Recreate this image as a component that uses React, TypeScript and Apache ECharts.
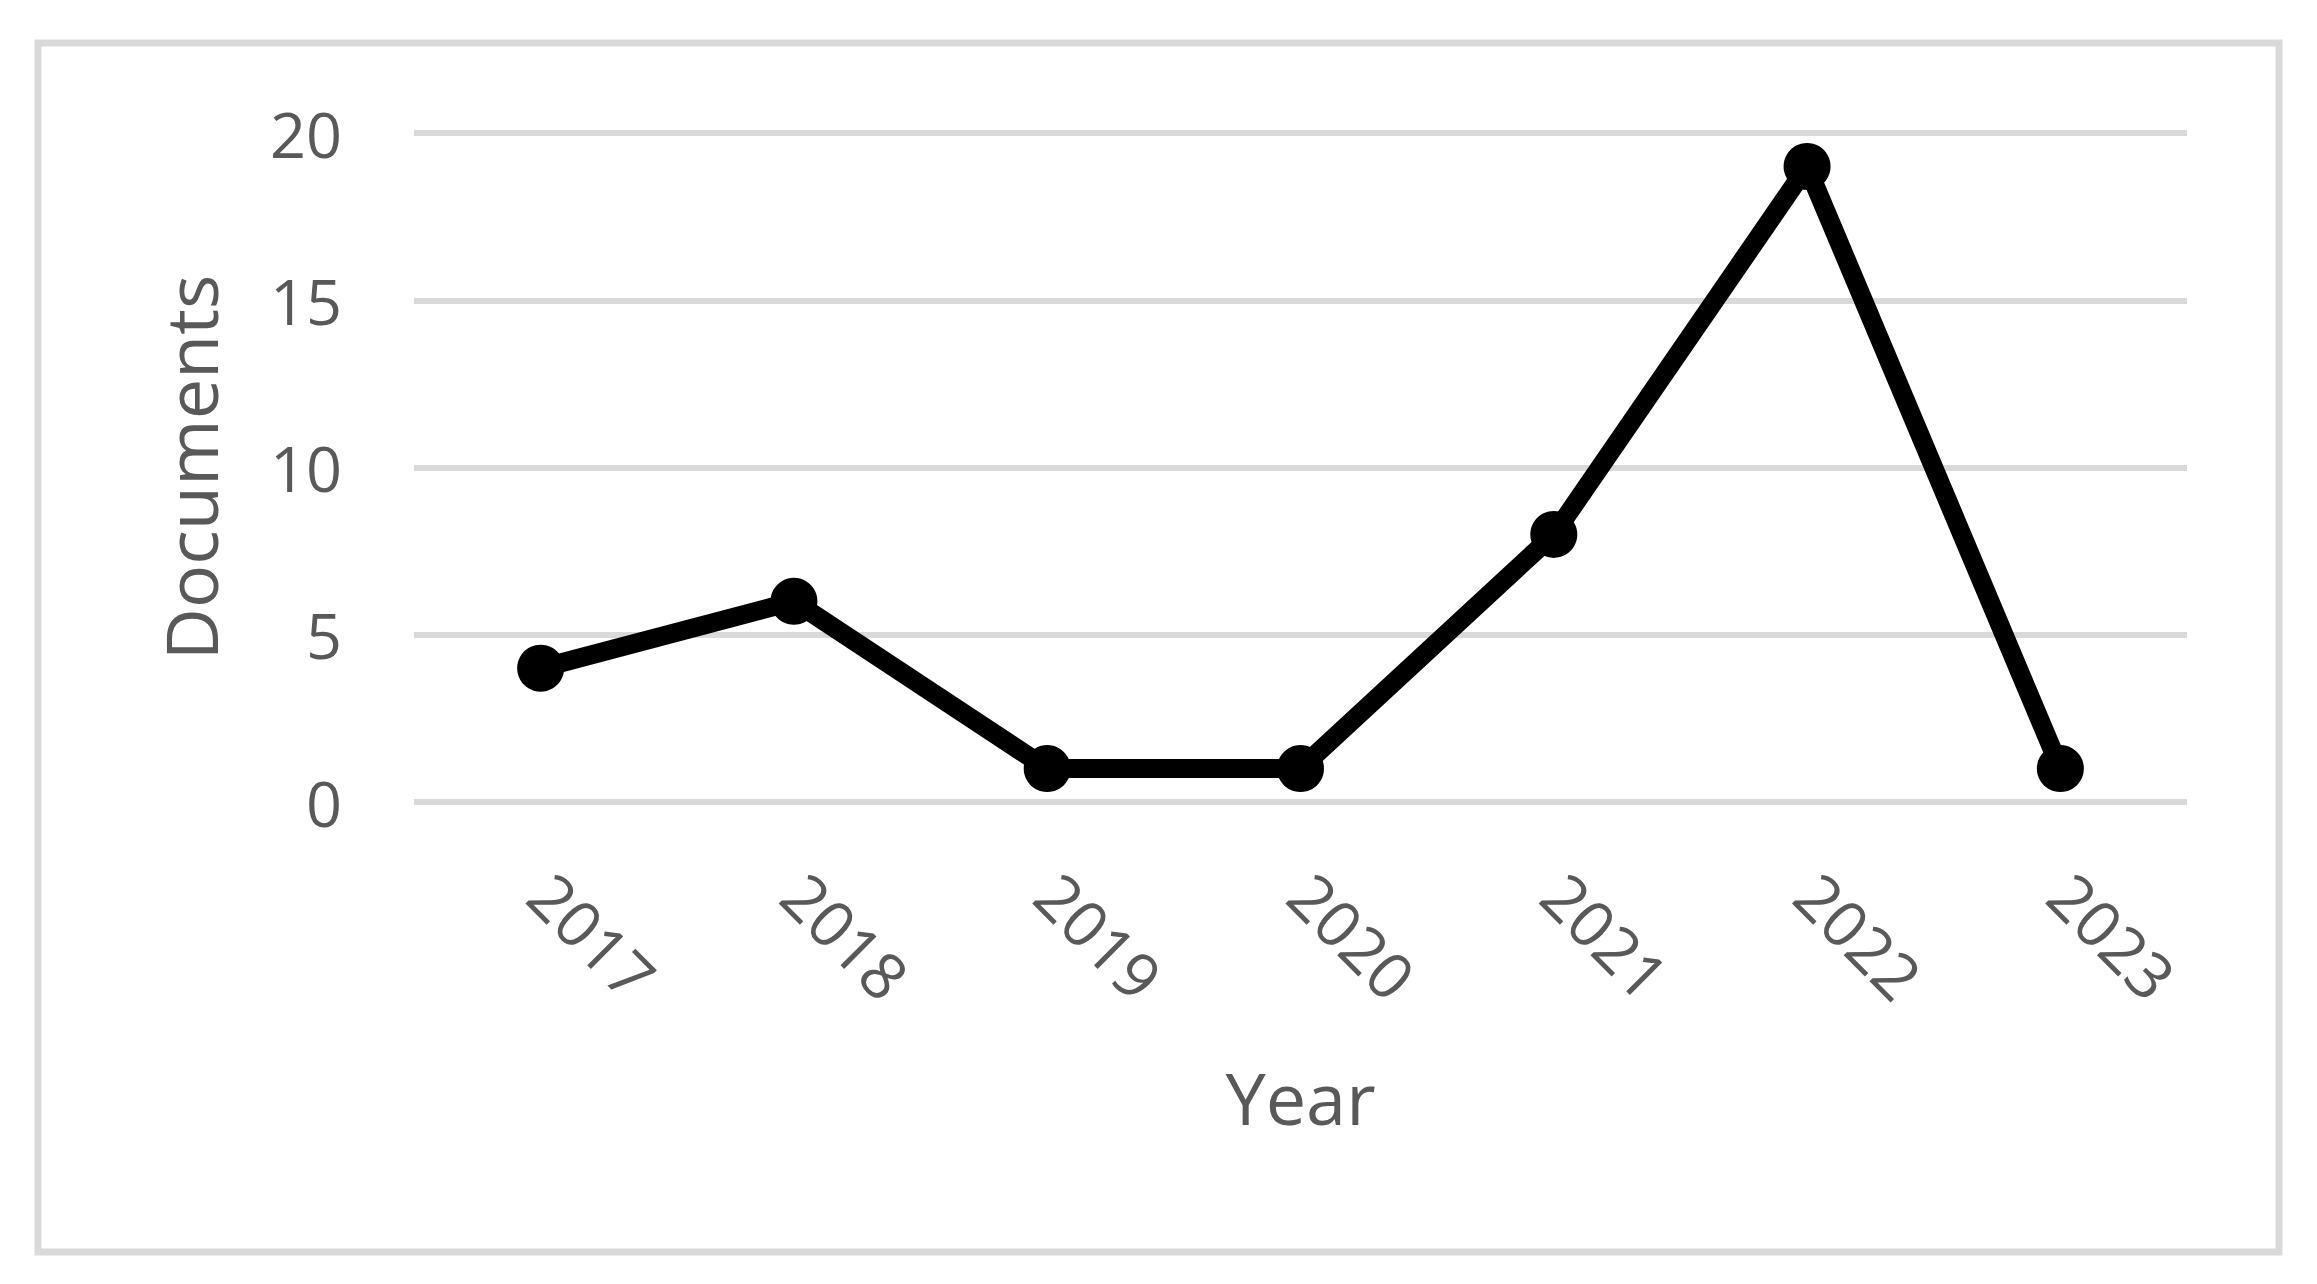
import React, { useEffect, useRef } from "react";
import * as echarts from "echarts";

const years = ["2017", "2018", "2019", "2020", "2021", "2022", "2023"];
const documents = [4, 6, 1, 1, 8, 19, 1];
const yTitle = "Documents";
const xTitle = "Year";

const FONT = "'Open Sans', 'Noto Sans', sans-serif";
const TEXT = "#595959";
const GRID = "#d9d9d9";

export default function App() {
  const ref = useRef<HTMLDivElement>(null);
  useEffect(() => {
    if (!ref.current) return;
    const chart = echarts.init(ref.current, undefined, { renderer: "svg" });
    chart.setOption({
      animation: false,
      backgroundColor: "#ffffff",
      graphic: [
        {
          type: "rect",
          shape: { x: 38, y: 43, width: 2241, height: 1209 },
          style: { fill: "none", stroke: GRID, lineWidth: 7 },
          z: -1,
        },
      ],
      grid: { left: 414, right: 130, top: 133, bottom: 482 },
      xAxis: {
        type: "category",
        data: years,
        boundaryGap: true,
        axisLine: { show: false },
        axisTick: { show: false },
        axisLabel: {
          rotate: -45,
          margin: 82,
          fontSize: 64,
          color: TEXT,
          fontFamily: FONT,
        },
        name: xTitle,
        nameLocation: "middle",
        nameGap: 259,
        nameTextStyle: { fontSize: 72, color: TEXT, fontFamily: FONT },
      },
      yAxis: {
        type: "value",
        min: 0,
        max: 20,
        interval: 5,
        axisLine: { show: false },
        axisTick: { show: false },
        axisLabel: { margin: 72, fontSize: 63, color: TEXT, fontFamily: FONT },
        splitLine: { lineStyle: { color: GRID, width: 6 } },
        name: yTitle,
        nameLocation: "middle",
        nameGap: 188,
        nameRotate: 90,
        nameTextStyle: { fontSize: 72, color: TEXT, fontFamily: FONT },
      },
      series: [
        {
          type: "line",
          data: documents,
          symbol: "circle",
          symbolSize: 47,
          lineStyle: { color: "#000000", width: 19, join: "round" },
          itemStyle: { color: "#000000", borderWidth: 0 },
        },
      ],
    });
    return () => chart.dispose();
  }, []);
  return (
    <div
      ref={ref}
      style={{ position: "fixed", left: 0, top: 0, width: 2317, height: 1284, background: "#fff" }}
    />
  );
}
